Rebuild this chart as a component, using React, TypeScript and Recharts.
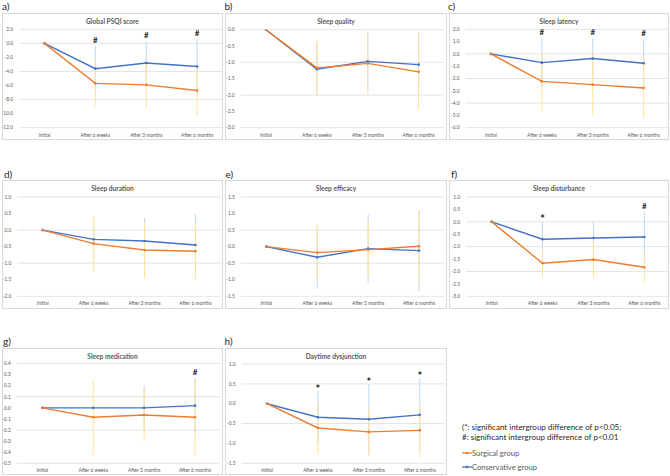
import React from 'react';
import { LineChart, Line, XAxis, YAxis, CartesianGrid, ErrorBar, LabelList } from 'recharts';

const categories = ['Initial', 'After 6 weeks', 'After 3 months', 'After 6 months'];

// a) Global PSQI score
const psqiSurgical = [0, -5.7, -5.9, -6.7];
const psqiSurgicalSD = [0, 3.3, 3.35, 3.5];
const psqiConservative = [0, -3.6, -2.8, -3.3];
const psqiConservativeSD = [0, 3.2, 3.1, 3.9];
const psqiSig = ['', '#', '#', '#'];
const psqiTicks = [2, 0, -2, -4, -6, -8, -10, -12];

// b) Sleep quality
const qualitySurgical = [0, -1.17, -1.03, -1.29];
const qualitySurgicalSD = [0, 0.85, 0.98, 1.17];
const qualityConservative = [0, -1.21, -0.97, -1.07];
const qualityConservativeSD = [0, 0.8, 0.9, 1.0];
const qualitySig = ['', '', '', ''];
const qualityTicks = [0, -0.5, -1, -1.5, -2, -2.5, -3];

// c) Sleep latency
const latencySurgical = [0, -2.23, -2.5, -2.77];
const latencySurgicalSD = [0, 2.38, 2.52, 2.46];
const latencyConservative = [0, -0.71, -0.38, -0.76];
const latencyConservativeSD = [0, 1.98, 1.65, 1.95];
const latencySig = ['', '#', '#', '#'];
const latencyTicks = [2, 1, 0, -1, -2, -3, -4, -5, -6];

// d) Sleep duration
const durationSurgical = [0, -0.41, -0.6, -0.64];
const durationSurgicalSD = [0, 0.83, 0.86, 0.85];
const durationConservative = [0, -0.28, -0.33, -0.45];
const durationConservativeSD = [0, 0.62, 0.7, 0.94];
const durationSig = ['', '', '', ''];
const durationTicks = [1, 0.5, 0, -0.5, -1, -1.5, -2];

// e) Sleep efficacy
const efficacySurgical = [0, -0.18, -0.09, 0.01];
const efficacySurgicalSD = [0, 0.83, 0.84, 1.1];
const efficacyConservative = [0, -0.32, -0.06, -0.12];
const efficacyConservativeSD = [0, 0.94, 1.03, 1.22];
const efficacySig = ['', '', '', ''];
const efficacyTicks = [1.5, 1, 0.5, 0, -0.5, -1, -1.5];

// f) Sleep disturbance
const disturbanceSurgical = [0, -1.67, -1.52, -1.83];
const disturbanceSurgicalSD = [0, 0.55, 0.73, 0.62];
const disturbanceConservative = [0, -0.7, -0.65, -0.61];
const disturbanceConservativeSD = [0, 0.7, 0.68, 1.02];
const disturbanceSig = ['', '*', '', '#'];
const disturbanceTicks = [1, 0.5, 0, -0.5, -1, -1.5, -2, -2.5, -3];

// g) Sleep medication
const medicationSurgical = [0, -0.085, -0.065, -0.085];
const medicationSurgicalSD = [0, 0.345, 0.24, 0.35];
const medicationConservative = [0, 0, 0, 0.02];
const medicationConservativeSD = [0, 0, 0.2, 0.25];
const medicationSig = ['', '', '', '#'];
const medicationTicks = [0.4, 0.3, 0.2, 0.1, 0, -0.1, -0.2, -0.3, -0.4, -0.5];

// h) Daytime dysjunction
const daytimeSurgical = [0, -0.61, -0.71, -0.67];
const daytimeSurgicalSD = [0, 0.66, 0.61, 0.68];
const daytimeConservative = [0, -0.34, -0.39, -0.28];
const daytimeConservativeSD = [0, 0.66, 0.88, 0.92];
const daytimeSig = ['', '*', '*', '*'];
const daytimeTicks = [1, 0.5, 0, -0.5, -1, -1.5];

const seriesNames = ['Surgical group', 'Conservative group'];
const noteLines = [
  '(*: significant intergroup difference of p<0.05;',
  '#: significant intergroup difference of p<0.01',
];

const FONT = 'Lato, "Open Sans", sans-serif';
const ORANGE = '#ED7D31';
const BLUE = '#4472C4';
const ORANGE_ERR = '#FFE397';
const BLUE_ERR = '#BDD7EE';
const PLOT_W = 203.6;
const PAD = PLOT_W / 8;

const SigLabel = (p: any) => {
  const { x, y, value } = p;
  if (!value || x == null || y == null || Number.isNaN(Number(y))) return null;
  const isStar = value === '*';
  return (
    <text
      x={x}
      y={isStar ? y + 1.5 : y - 3}
      textAnchor="middle"
      fontSize={isStar ? 11 : 8}
      fontWeight={700}
      fill="#262626"
      fontFamily={FONT}
    >
      {value}
    </text>
  );
};

type PanelProps = {
  letter: string;
  letterX: number;
  letterY: number;
  title: string;
  x: number;
  y: number;
  w: number;
  h: number;
  plotTop: number;
  plotBottom: number;
  plotLeft: number;
  surg: number[];
  surgSD: number[];
  cons: number[];
  consSD: number[];
  sig: string[];
  ticks: number[];
  decimals: number;
};

function Panel(props: PanelProps) {
  const { letter, letterX, letterY, title, x, y, w, h, plotTop, plotBottom, plotLeft, surg, surgSD, cons, consSD, sig, ticks, decimals } = props;
  const data = categories.map((name, i) => ({
    name,
    s: surg[i],
    sBar: surg[i],
    sSD: surgSD[i],
    c: cons[i],
    cBar: cons[i],
    cSD: consSD[i],
    mark: sig[i] ? Math.max(surg[i] + surgSD[i], cons[i] + consSD[i]) : null,
    sig: sig[i],
  }));
  const xAxisH = 10;
  const margin = { top: plotTop, left: 0, right: w - plotLeft - PLOT_W, bottom: h - plotBottom - xAxisH };
  const domain: [number, number] = [ticks[ticks.length - 1], ticks[0]];
  const tickStyle = { fontSize: 4.9, fill: '#595959', fontFamily: FONT };
  return (
    <>
      <div style={{ position: 'absolute', left: letterX, top: letterY, fontFamily: FONT, fontSize: 10, lineHeight: '10px', color: '#262626' }}>{letter}</div>
      <div style={{ position: 'absolute', left: x, top: y, width: w, height: h, border: '1px solid #d9d9d9', boxSizing: 'border-box' }} />
      <div style={{ position: 'absolute', left: x, top: y, width: w, height: h }}>
        <div style={{ position: 'absolute', left: 0, top: 3, width: w, textAlign: 'center', fontFamily: FONT, fontSize: 6.6, fontWeight: 700, color: '#595959', lineHeight: '10px' }}>{title}</div>
        <LineChart width={w} height={h} data={data} margin={margin}>
          <CartesianGrid vertical={false} stroke="#d9d9d9" strokeWidth={0.75} />
          <XAxis dataKey="name" interval={0} padding={{ left: PAD, right: PAD }} tickLine={false} axisLine={false} tickSize={0} tickMargin={5.5} height={xAxisH} tick={tickStyle} />
          <YAxis
            type="number"
            domain={domain}
            ticks={ticks}
            allowDataOverflow
            width={plotLeft}
            tickLine={false}
            axisLine={false}
            tickSize={0}
            tickMargin={6}
            tick={tickStyle}
            tickFormatter={(v: number) => v.toFixed(decimals)}
          />
          <Line dataKey="cBar" stroke="none" dot={false} activeDot={false} isAnimationActive={false}>
            <ErrorBar dataKey="cSD" width={0} stroke={BLUE_ERR} strokeWidth={1} />
          </Line>
          <Line dataKey="sBar" stroke="none" dot={false} activeDot={false} isAnimationActive={false}>
            <ErrorBar dataKey="sSD" width={0} stroke={ORANGE_ERR} strokeWidth={1} />
          </Line>
          <Line dataKey="c" stroke={BLUE} strokeWidth={1.4} dot={{ r: 1.3, fill: BLUE, stroke: BLUE, strokeWidth: 0 }} activeDot={false} isAnimationActive={false} />
          <Line dataKey="s" stroke={ORANGE} strokeWidth={1.4} dot={{ r: 1.3, fill: ORANGE, stroke: ORANGE, strokeWidth: 0 }} activeDot={false} isAnimationActive={false} />
          <Line dataKey="mark" stroke="none" dot={false} activeDot={false} isAnimationActive={false}>
            <LabelList dataKey="sig" content={SigLabel} />
          </Line>
        </LineChart>
      </div>
    </>
  );
}

const LegendIcon = ({ color }: { color: string }) => (
  <svg width={10} height={6} style={{ display: 'block' }}>
    <line x1={0} y1={3} x2={10} y2={3} stroke={color} strokeWidth={1.3} />
    <circle cx={5} cy={3} r={1.3} fill={color} />
  </svg>
);

export default function App() {
  const cols = [
    { x: 2, w: 221 },
    { x: 225, w: 222 },
    { x: 449, w: 220 },
  ];
  const rows = [
    { y: 13, h: 127, plotTop: 16.3, plotBottom: 114.7, letterY: 1 },
    { y: 180, h: 129, plotTop: 17, plotBottom: 116.3, letterY: 168.5 },
    { y: 348, h: 127, plotTop: 15.5, plotBottom: 115.3, letterY: 335.5 },
  ];
  const lx = [2, 224.5, 448];
  return (
    <div style={{ position: 'absolute', left: 0, top: 0, width: 670, height: 476, background: '#fff', overflow: 'hidden' }}>
      <Panel letter="a)" letterX={lx[0]} letterY={rows[0].letterY} title="Global PSQI score" x={cols[0].x} y={rows[0].y} w={cols[0].w} h={rows[0].h} plotTop={rows[0].plotTop} plotBottom={rows[0].plotBottom} plotLeft={17}
        surg={psqiSurgical} surgSD={psqiSurgicalSD} cons={psqiConservative} consSD={psqiConservativeSD} sig={psqiSig} ticks={psqiTicks} decimals={1} />
      <Panel letter="b)" letterX={lx[1]} letterY={rows[0].letterY} title="Sleep quality" x={cols[1].x} y={rows[0].y} w={cols[1].w} h={rows[0].h} plotTop={rows[0].plotTop + 0.4} plotBottom={rows[0].plotBottom} plotLeft={15.5}
        surg={qualitySurgical} surgSD={qualitySurgicalSD} cons={qualityConservative} consSD={qualityConservativeSD} sig={qualitySig} ticks={qualityTicks} decimals={1} />
      <Panel letter="c)" letterX={lx[2]} letterY={rows[0].letterY} title="Sleep latency" x={cols[2].x} y={rows[0].y} w={cols[2].w} h={rows[0].h} plotTop={rows[0].plotTop} plotBottom={rows[0].plotBottom} plotLeft={16.5}
        surg={latencySurgical} surgSD={latencySurgicalSD} cons={latencyConservative} consSD={latencyConservativeSD} sig={latencySig} ticks={latencyTicks} decimals={1} />

      <Panel letter="d)" letterX={lx[0] + 2} letterY={rows[1].letterY} title="Sleep duration" x={cols[0].x} y={rows[1].y} w={cols[0].w} h={rows[1].h} plotTop={rows[1].plotTop} plotBottom={rows[1].plotBottom} plotLeft={15.3}
        surg={durationSurgical} surgSD={durationSurgicalSD} cons={durationConservative} consSD={durationConservativeSD} sig={durationSig} ticks={durationTicks} decimals={1} />
      <Panel letter="e)" letterX={lx[1] + 1} letterY={rows[1].letterY} title="Sleep efficacy" x={cols[1].x} y={rows[1].y} w={cols[1].w} h={rows[1].h} plotTop={rows[1].plotTop} plotBottom={rows[1].plotBottom} plotLeft={15.9}
        surg={efficacySurgical} surgSD={efficacySurgicalSD} cons={efficacyConservative} consSD={efficacyConservativeSD} sig={efficacySig} ticks={efficacyTicks} decimals={1} />
      <Panel letter="f)" letterX={lx[2] + 3} letterY={rows[1].letterY} title="Sleep disturbance" x={cols[2].x} y={rows[1].y} w={cols[2].w} h={rows[1].h} plotTop={rows[1].plotTop} plotBottom={rows[1].plotBottom} plotLeft={17.2}
        surg={disturbanceSurgical} surgSD={disturbanceSurgicalSD} cons={disturbanceConservative} consSD={disturbanceConservativeSD} sig={disturbanceSig} ticks={disturbanceTicks} decimals={1} />

      <Panel letter="g)" letterX={lx[0] + 1} letterY={rows[2].letterY} title="Sleep medication" x={cols[0].x} y={rows[2].y} w={cols[0].w} h={rows[2].h} plotTop={rows[2].plotTop} plotBottom={rows[2].plotBottom} plotLeft={14.9}
        surg={medicationSurgical} surgSD={medicationSurgicalSD} cons={medicationConservative} consSD={medicationConservativeSD} sig={medicationSig} ticks={medicationTicks} decimals={1} />
      <Panel letter="h)" letterX={lx[1]} letterY={rows[2].letterY} title="Daytime dysjunction" x={cols[1].x} y={rows[2].y} w={cols[1].w} h={rows[2].h} plotTop={rows[2].plotTop + 0.5} plotBottom={rows[2].plotBottom} plotLeft={16.6}
        surg={daytimeSurgical} surgSD={daytimeSurgicalSD} cons={daytimeConservative} consSD={daytimeConservativeSD} sig={daytimeSig} ticks={daytimeTicks} decimals={1} />

      <div style={{ position: 'absolute', left: 462, top: 421.5, fontFamily: FONT, fontSize: 8, lineHeight: '10px', color: '#262626', whiteSpace: 'nowrap' }}>
        <div>{noteLines[0]}</div>
        <div>{noteLines[1]}</div>
      </div>
      <div style={{ position: 'absolute', left: 462, top: 449, fontFamily: FONT, fontSize: 7.6, lineHeight: '8px', color: '#595959', whiteSpace: 'nowrap' }}>
        <div style={{ display: 'flex', alignItems: 'center', height: 8 }}>
          <LegendIcon color={ORANGE} />
          <span>{seriesNames[0]}</span>
        </div>
        <div style={{ display: 'flex', alignItems: 'center', height: 8, marginTop: 5.5 }}>
          <LegendIcon color={BLUE} />
          <span>{seriesNames[1]}</span>
        </div>
      </div>
    </div>
  );
}
